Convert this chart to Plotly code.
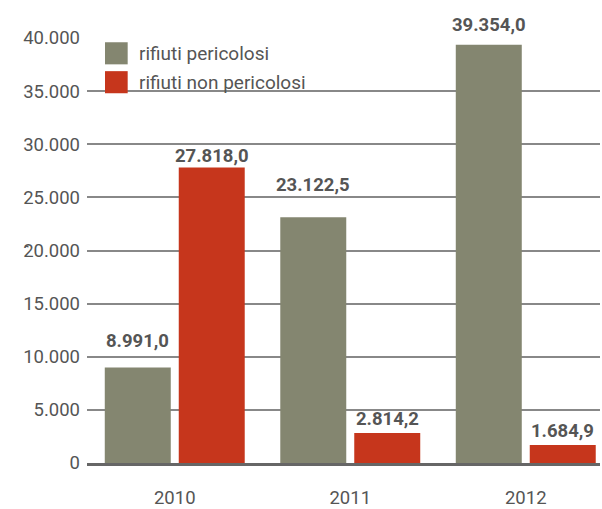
import plotly.graph_objects as go

# Rifiuti prodotti per anno (valori)
anni = ["2010", "2011", "2012"]
pericolosi = [8991.0, 23122.5, 39354.0]
non_pericolosi = [27818.0, 2814.2, 1684.9]
serie_nomi = ["rifiuti pericolosi", "rifiuti non pericolosi"]
y_tick_vals = [0, 5000, 10000, 15000, 20000, 25000, 30000, 35000, 40000]
y_tick_text = ["0", "5.000", "10.000", "15.000", "20.000", "25.000", "30.000", "35.000", "40.000"]

GRIGIO = "#848670"
ROSSO = "#C6361C"
TESTO = "#555555"
FONT = "Roboto"


def fmt_it(v):
    s = f"{v:,.1f}"
    return s.replace(",", "X").replace(".", ",").replace("X", ".")


fig = go.Figure()
fig.add_trace(go.Bar(x=anni, y=pericolosi, name=serie_nomi[0], marker_color=GRIGIO,
                     marker_line_width=0, showlegend=False))
fig.add_trace(go.Bar(x=anni, y=non_pericolosi, name=serie_nomi[1], marker_color=ROSSO,
                     marker_line_width=0, showlegend=False))

# etichette di valore sopra le barre
shift_per = [26, 32, 20]
shift_non = [11, 14, 14]
off = 0.211
annotations = []
for i, v in enumerate(pericolosi):
    annotations.append(dict(x=i - off, y=v, xref="x", yref="y", text=f"<b>{fmt_it(v)}</b>",
                            showarrow=False, yanchor="middle", yshift=shift_per[i],
                            font=dict(family=FONT, size=18.5, color=TESTO)))
for i, v in enumerate(non_pericolosi):
    annotations.append(dict(x=i + off, y=v, xref="x", yref="y", text=f"<b>{fmt_it(v)}</b>",
                            showarrow=False, yanchor="middle", yshift=shift_non[i],
                            font=dict(family=FONT, size=18.5, color=TESTO)))

# legenda disegnata a mano
shapes = []
leg_y = [(0.938, 0.990), (0.870, 0.922)]
for (y0, y1), col, nome in zip(leg_y, [GRIGIO, ROSSO], serie_nomi):
    shapes.append(dict(type="rect", xref="paper", yref="paper", x0=0.0351, x1=0.0793,
                       y0=y0, y1=y1, fillcolor=col, line_width=0, layer="above"))
    annotations.append(dict(x=0.0975, y=(y0 + y1) / 2, xref="paper", yref="paper", text=nome,
                            showarrow=False, xanchor="left", yanchor="middle",
                            font=dict(family=FONT, size=19, color=TESTO)))

# piccolo segno del titolo asse y
annotations.append(dict(x=-0.147, y=0.51, xref="paper", yref="paper", text=",", textangle=-90,
                        showarrow=False, font=dict(family=FONT, size=15, color=TESTO)))

fig.update_layout(
    width=602, height=509,
    margin=dict(l=87, r=2, t=38, b=46),
    paper_bgcolor="white", plot_bgcolor="white",
    barmode="group", bargap=0.157, bargroupgap=0.108,
    annotations=annotations, shapes=shapes,
    font=dict(family=FONT, color=TESTO),
    xaxis=dict(type="category", range=[-0.5, 2.423], showgrid=False, zeroline=False,
               showline=True, linecolor="#666666", linewidth=3, layer="above traces",
               automargin=False,
               ticks="", ticklabelstandoff=16, tickfont=dict(family=FONT, size=18.5, color=TESTO)),
    yaxis=dict(range=[0, 40000], tickvals=y_tick_vals, ticktext=y_tick_text,
               showgrid=True, gridcolor="#888888", gridwidth=2, zeroline=False,
               automargin=False,
               ticks="", ticklabelstandoff=6, tickfont=dict(family=FONT, size=18.5, color=TESTO)),
)

fig.write_html("out.html")
